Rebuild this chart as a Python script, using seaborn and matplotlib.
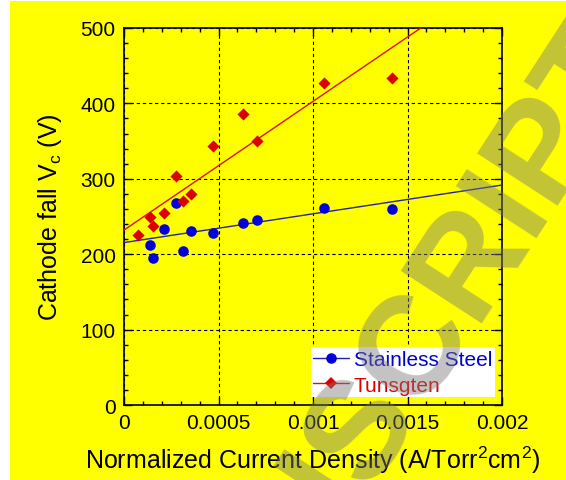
import matplotlib
matplotlib.use("Agg")
import matplotlib.pyplot as plt
import seaborn as sns
from matplotlib.lines import Line2D
from matplotlib.patches import Rectangle
from matplotlib.ticker import FixedLocator, MultipleLocator

# ---- data ----
x_ss = [0.000139, 0.000156, 0.000212, 0.000277, 0.000313, 0.000357,
        0.000473, 0.000630, 0.000706, 0.001060, 0.001416]
v_ss = [211.8, 195.0, 233.0, 267.4, 204.8, 231.0,
        228.6, 241.0, 246.0, 261.7, 260.4]

x_w = [0.0000725, 0.000139, 0.000156, 0.000212, 0.000277, 0.000313,
       0.000357, 0.000473, 0.000630, 0.000706, 0.001060, 0.001416]
v_w = [225.0, 249.8, 238.0, 254.0, 303.6, 270.5,
       280.0, 344.0, 386.0, 349.5, 427.6, 434.0]

fit_x = [0.0, 0.002]
fit_ss = [215.4, 291.7]
fit_w = [232.0, 573.4]

x_ticks = [0, 0.0005, 0.001, 0.0015, 0.002]
x_tick_labels = ["0", "0.0005", "0.001", "0.0015", "0.002"]
y_ticks = [0, 100, 200, 300, 400, 500]
series_names = ["Stainless Steel", "Tunsgten"]
watermark = "MANUSCRIPT"

# ---- style ----
sns.set_theme(style="ticks")
plt.rcParams["font.family"] = ["Liberation Sans", "DejaVu Sans"]
plt.rcParams["mathtext.fontset"] = "custom"
plt.rcParams["mathtext.rm"] = "Liberation Sans"
plt.rcParams["mathtext.it"] = "Liberation Sans:italic"

YELLOW = "#ffff00"
BLUE = "#0000dd"
RED = "#dd0000"

W, H = 566, 481
fig = plt.figure(figsize=(W / 100, H / 100), dpi=100)
fig.patch.set_facecolor("white")
fig.add_artist(Rectangle((10 / W, 0), 1 - 10 / W, 1 - 2 / H,
                         transform=fig.transFigure, facecolor=YELLOW,
                         edgecolor="none", zorder=0))

ax = fig.add_axes([124 / W, 1 - 406 / H, 378 / W, 377 / H])
ax.set_facecolor(YELLOW)

sns.lineplot(x=fit_x, y=fit_ss, color="#2222a8", linewidth=1.0, ax=ax, zorder=3)
sns.lineplot(x=fit_x, y=fit_w, color="#e01010", linewidth=1.0, ax=ax, zorder=3)
sns.scatterplot(x=x_ss, y=v_ss, color=BLUE, marker="o", s=58,
                linewidth=0, ax=ax, zorder=4)
sns.scatterplot(x=x_w, y=v_w, color=RED, marker="D", s=38,
                linewidth=0, ax=ax, zorder=4)

ax.set_xlim(0, 0.002)
ax.set_ylim(0, 500)
ax.xaxis.set_major_locator(FixedLocator(x_ticks))
ax.set_xticklabels(x_tick_labels)
ax.xaxis.set_minor_locator(MultipleLocator(0.0001))
ax.yaxis.set_major_locator(FixedLocator(y_ticks))
ax.yaxis.set_minor_locator(MultipleLocator(20))

ax.grid(True, which="major", color="black", linestyle=(0, (3, 2.5)),
        linewidth=0.8)
ax.set_axisbelow(True)
for sp in ax.spines.values():
    sp.set_visible(True)
    sp.set_color("black")
    sp.set_linewidth(1.2)

ax.tick_params(which="both", direction="in", top=True, right=True,
               colors="black", width=1.0, labelsize=15, pad=6)
ax.tick_params(which="major", length=6)
ax.tick_params(which="minor", length=3)

ax.set_xlabel(r"Normalized Current Density (A/Torr$\mathregular{^2}$cm$\mathregular{^2}$)",
              fontsize=18, color="black", labelpad=8)
ax.set_ylabel(r"Cathode fall V$\mathregular{_c}$ (V)", fontsize=18,
              color="black", labelpad=12)

handles = [
    Line2D([], [], color="#2222a8", lw=1.0, marker="o", markersize=7.6,
           markerfacecolor=BLUE, markeredgewidth=0),
    Line2D([], [], color="#e01010", lw=1.0, marker="D", markersize=6.2,
           markerfacecolor=RED, markeredgewidth=0),
]
leg = ax.legend(handles, series_names, loc="lower right",
                bbox_to_anchor=(0.981, 0.021), borderaxespad=0,
                fontsize=15, frameon=True, fancybox=False, framealpha=1,
                facecolor="white", edgecolor="none", borderpad=0.12,
                handlelength=1.7, handletextpad=0.25, labelspacing=0.32)
leg.get_texts()[0].set_color("#0000cc")
leg.get_texts()[1].set_color("#dd0000")
leg.set_zorder(6)

fig.text(362 / W, 1 - 427 / H, watermark, rotation=57, rotation_mode="anchor",
         ha="center", va="center", fontsize=101, fontweight="bold",
         family=["Liberation Sans", "DejaVu Sans"],
         color=(0.48, 0.48, 0.48), alpha=0.45, zorder=100)

fig.savefig("out.png", dpi=100)
